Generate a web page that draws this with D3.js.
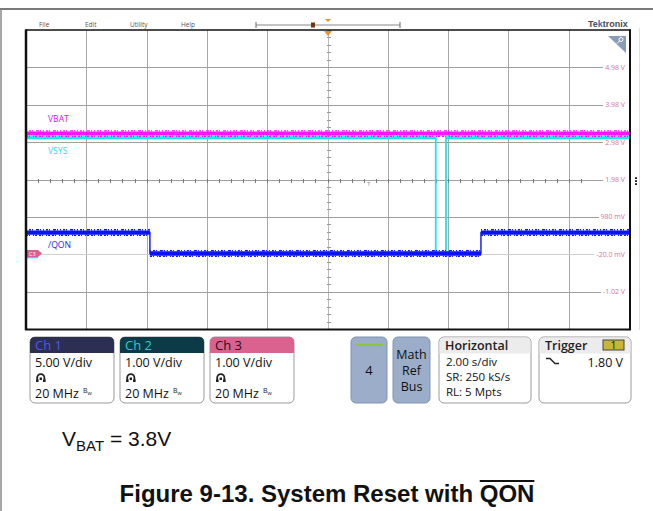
<!DOCTYPE html>
<html><head><meta charset="utf-8">
<script src="https://cdn.jsdelivr.net/npm/d3@7"></script>
<style>body{margin:0;background:#fff}svg{display:block}text{font-family:"Open Sans",sans-serif}</style>
</head><body><svg id="c" width="653" height="511"></svg>
<script>
// ---------------- data ----------------
const timeRange = [-10, 10];            // seconds, 2.00 s/div x 10 div
const vbatTime  = [-10, 10];
const vbatVolts = [3.8, 3.8];
const vsysTime  = [-10, 3.59, 3.59, 3.93, 3.93, 10];
const vsysVolts = [3.1, 3.1, 0, 0, 3.1, 3.1];
const qonTime   = [-10, -5.89, -5.89, 5.09, 5.09, 10];
const qonVolts  = [0.56, 0.56, 0, 0, 0.56, 0.56];
const axisValues = [4.98, 3.98, 2.98, 1.98, 0.98, -0.02, -1.02];
const axisLabels = ["4.98 V", "3.98 V", "2.98 V", "1.98 V", "980 mV", "-20.0 mV", "-1.02 V"];
const traceNames = ["VBAT", "VSYS", "/QON"];
const menuItems = ["File", "Edit", "Utility", "Help"];
const channelNames = ["Ch 1", "Ch 2", "Ch 3"];
const channelScales = ["5.00 V/div", "1.00 V/div", "1.00 V/div"];
const channelBandwidth = ["20 MHz", "20 MHz", "20 MHz"];
const horizontalInfo = ["2.00 s/div", "SR: 250 kS/s", "RL: 5 Mpts"];
const mathRefBus = ["Math", "Ref", "Bus"];
const triggerSource = "1";
const triggerLevel = "1.80 V";
const noteText = ["V", "BAT", " = 3.8V"];
const captionText = "Figure 9-13. System Reset with ";
const captionBar = "QON";

// ---------------- layout ----------------
const svg = d3.select("#c");
const L = 26, R = 629, T = 30, B = 329;
const x = d3.scaleLinear().domain(timeRange).range([L, R]);
const divY = d3.scaleLinear().domain([-4, 4]).range([B, T]);
// channel vertical settings: volts/div and offset (div)
const chY = (vdiv, off) => v => divY(v / vdiv + off);
const y1 = chY(5, 0.47), y2 = chY(1, -1.98), y3 = chY(1, -1.98);
const ARIAL = '"Liberation Sans", Arial, sans-serif';

// frame
svg.append("line").attr("x1", 0).attr("x2", 653).attr("y1", 9).attr("y2", 9).attr("stroke", "#7a7a7a").attr("stroke-width", 2);
svg.append("line").attr("x1", 1).attr("x2", 1).attr("y1", 9).attr("y2", 511).attr("stroke", "#8a8a8a").attr("stroke-width", 1.5);
svg.append("line").attr("x1", 639.5).attr("x2", 639.5).attr("y1", 28).attr("y2", 330).attr("stroke", "#e2e2e2");

// menu
const mx = [39, 85, 130, 181];
svg.selectAll(".menu").data(menuItems).join("text").attr("x", (d, i) => mx[i]).attr("y", 26.5)
  .attr("font-size", 6.5).attr("fill", "#555").text(d => d);
// timeline
svg.append("line").attr("x1", 256).attr("x2", 400).attr("y1", 25).attr("y2", 25).attr("stroke", "#888");
[256, 400].forEach(v => svg.append("line").attr("x1", v).attr("x2", v).attr("y1", 22).attr("y2", 28).attr("stroke", "#666"));
svg.append("rect").attr("x", 311).attr("y", 22.5).attr("width", 4).attr("height", 5).attr("fill", "#6e3612");
svg.append("path").attr("d", "M325,19L331,19L328,22Z").attr("fill", "#f0902a");
// logo
const logo = svg.append("text").attr("x", 588).attr("y", 27).attr("font-size", 9).attr("font-weight", 700)
  .attr("fill", "#4a4a4a").style("font-family", ARIAL);
logo.append("tspan").text("Te");
logo.append("tspan").attr("fill", "#2f6fb8").text("k");
logo.append("tspan").text("tronix");

// grid
const g = svg.append("g").attr("shape-rendering", "crispEdges");
const xt = d3.range(-8, 10, 2).filter(t => t !== 0);
g.selectAll(".vg").data(xt).join("line").attr("x1", d => Math.round(x(d)) + 0.5).attr("x2", d => Math.round(x(d)) + 0.5)
  .attr("y1", T).attr("y2", B).attr("stroke", "#a8a8a8");

// right axis labels (channel 3 scale)
const lab = svg.append("g");
const labTexts = lab.selectAll("text").data(axisValues).join("text")
  .attr("x", 625).attr("y", d => y3(d) + 2.4).attr("text-anchor", "end").attr("font-size", 7)
  .attr("fill", "#e0709c").text((d, i) => axisLabels[i]);
const hdivs = d3.range(-3, 4);
hdivs.forEach(d => {
  const yy = Math.round(divY(d)) + 0.5;
  let endX = R;
  labTexts.each(function (v) { if (Math.abs(y3(v) - divY(d)) < 1) endX = 625 - this.getComputedTextLength() - 2; });
  g.append("line").attr("x1", L).attr("x2", endX).attr("y1", yy).attr("y2", yy)
    .attr("stroke", d === -2 ? "#cfcfcf" : "#a0a0a0").attr("stroke-width", d === -2 ? 1.5 : 1);
});
// center ticks
const cx = Math.round(x(0)) + 0.5, cy = Math.round(divY(0)) + 0.5;
g.append("line").attr("x1", cx).attr("x2", cx).attr("y1", T).attr("y2", B).attr("stroke", "#b8b8b8");
d3.range(-4, 4.01, 0.2).forEach(d => g.append("line").attr("x1", cx - 2).attr("x2", cx + 2)
  .attr("y1", Math.round(divY(d)) + 0.5).attr("y2", Math.round(divY(d)) + 0.5).attr("stroke", "#9a9a9a"));
d3.range(-10, 10.01, 0.4).forEach(t => { if (x(t) < 590) g.append("line").attr("y1", cy - 2).attr("y2", cy + 2)
  .attr("x1", Math.round(x(t)) + 0.5).attr("x2", Math.round(x(t)) + 0.5).attr("stroke", "#777"); });
// trigger T marker
svg.append("text").attr("x", 367).attr("y", 186).attr("font-size", 6).attr("fill", "#888").text("T");

// traces
function drawTrace(times, volts, y, color, hw, vw, fuzz) {
  const pts = times.map((t, i) => [x(t), y(volts[i])]);
  const grp = svg.append("g");
  grp.append("path").attr("d", d3.line()(pts)).attr("fill", "none").attr("stroke", color).attr("stroke-width", vw);
  for (let i = 0; i < pts.length - 1; i++) {
    const [x0, yy0] = pts[i], [x1, yy1] = pts[i + 1];
    if (x0 === x1) continue;
    grp.append("line").attr("x1", x0).attr("x2", x1).attr("y1", yy0).attr("y2", yy1)
      .attr("stroke", color).attr("stroke-width", hw);
    if (fuzz) {
      grp.append("line").attr("x1", x0).attr("x2", x1).attr("y1", yy0 - hw / 2 - 0.7).attr("y2", yy1 - hw / 2 - 0.7)
        .attr("stroke", color).attr("stroke-width", 1.4).attr("stroke-dasharray", "1 2 2 1 1 3 3 1 1 2");
      grp.append("line").attr("x1", x0).attr("x2", x1).attr("y1", yy0 + hw / 2 + 0.7).attr("y2", yy1 + hw / 2 + 0.7)
        .attr("stroke", color).attr("stroke-width", 1.4).attr("stroke-dasharray", "2 1 1 3 1 1 2 2");
    }
  }
}
drawTrace(vsysTime, vsysVolts, y2, "#19e6e6", 3, 1.8, false);
drawTrace(vbatTime, vbatVolts, y1, "#ff14ff", 4, 2, true);
drawTrace(qonTime, qonVolts, y3, "#0a14f0", 4.3, 1.4, true);

// trace labels
const labCol = ["#e020e0", "#30dce6", "#1a2ae0"];
const labY = [122, 154, 248];
svg.selectAll(".tl").data(traceNames).join("text").attr("x", 48).attr("y", (d, i) => labY[i])
  .attr("font-size", 8.6).attr("fill", (d, i) => labCol[i]).text(d => d);

// C3 ground marker
const gy = y3(0);
svg.append("line").attr("x1", 27).attr("x2", 38).attr("y1", gy + 4).attr("y2", gy + 4).attr("stroke", "#19e6e6").attr("stroke-width", 1.5);
svg.append("path").attr("d", `M27,${gy - 3.5}H38L42,${gy}L38,${gy + 3.5}H27Z`).attr("fill", "#d9608c");
svg.append("text").attr("x", 29).attr("y", gy + 2.2).attr("font-size", 5.5).attr("fill", "#fff").text("C3");

// plot border
svg.append("line").attr("x1", 25.5).attr("x2", 631).attr("y1", 30).attr("y2", 30).attr("stroke", "#111").attr("stroke-width", 1.5);
svg.append("line").attr("x1", 26).attr("x2", 26).attr("y1", 29.5).attr("y2", 330).attr("stroke", "#111").attr("stroke-width", 2.5);
svg.append("line").attr("x1", 630).attr("x2", 630).attr("y1", 29.5).attr("y2", 330).attr("stroke", "#111").attr("stroke-width", 2);
svg.append("line").attr("x1", 25).attr("x2", 631).attr("y1", 329.5).attr("y2", 329.5).attr("stroke", "#111").attr("stroke-width", 2);
svg.append("path").attr("d", "M324,31L332,31L328,36Z").attr("fill", "#f0902a");
// zoom corner icon
svg.append("path").attr("d", "M608,36H626V53Z").attr("fill", "#8a9cb8");
svg.append("circle").attr("cx", 621).attr("cy", 39.5).attr("r", 2).attr("fill", "none").attr("stroke", "#fff");
svg.append("line").attr("x1", 619.5).attr("y1", 41).attr("x2", 617).attr("y2", 43.5).attr("stroke", "#fff");
// side menu dots
[178, 181, 184].forEach(v => svg.append("rect").attr("x", 635).attr("y", v - 0.8).attr("width", 2).attr("height", 1.8).attr("fill", "#222"));

// ---------------- bottom panel ----------------
function topRound(xx, yy, w, h, r) {
  return `M${xx},${yy + h}V${yy + r}Q${xx},${yy} ${xx + r},${yy}H${xx + w - r}Q${xx + w},${yy} ${xx + w},${yy + r}V${yy + h}Z`;
}
const chX = [30, 120, 210];
const hdrFill = ["#2c2e52", "#0d3a47", "#d9628e"];
const hdrText = ["#4d5ce0", "#35c6d8", "#2a0f1a"];
channelNames.forEach((n, i) => {
  const bx = chX[i];
  svg.append("rect").attr("x", bx).attr("y", 337).attr("width", 84).attr("height", 66).attr("rx", 5)
    .attr("fill", "#fff").attr("stroke", "#9a9a9a");
  svg.append("path").attr("d", topRound(bx, 337, 84, 16, 5)).attr("fill", hdrFill[i]);
  svg.append("text").attr("x", bx + 5).attr("y", 350).attr("font-size", 13).attr("fill", hdrText[i]).text(n);
  svg.append("text").attr("x", bx + 5).attr("y", 367).attr("font-size", 12.5).attr("fill", "#111").text(channelScales[i]);
  const ic = svg.append("g").attr("transform", `translate(${bx + 6},373)`);
  ic.append("path").attr("d", "M1.2,8V4.8A3.6,3.6 0 0 1 8.4,4.8V8").attr("fill", "none").attr("stroke", "#222").attr("stroke-width", 1.8);
  ic.append("rect").attr("x", 0).attr("y", 6.5).attr("width", 2.6).attr("height", 2.5).attr("fill", "#222");
  ic.append("rect").attr("x", 7).attr("y", 6.5).attr("width", 2.6).attr("height", 2.5).attr("fill", "#222");
  ic.append("rect").attr("x", 3.6).attr("y", 4.5).attr("width", 2.4).attr("height", 2.5).attr("fill", "#222");
  const bw = svg.append("text").attr("x", bx + 5).attr("y", 398).attr("font-size", 12.5).attr("fill", "#111").text(channelBandwidth[i]);
  const tw = bw.node().getComputedTextLength();
  svg.append("text").attr("x", bx + 5 + tw + 4).attr("y", 393).attr("font-size", 7).attr("fill", "#222").text("B");
  svg.append("text").attr("x", bx + 5 + tw + 8.5).attr("y", 395).attr("font-size", 5.5).attr("fill", "#222").text("w");
});
// "4" button
svg.append("rect").attr("x", 351).attr("y", 337).attr("width", 36).attr("height", 66).attr("rx", 5)
  .attr("fill", "#9cadc9").attr("stroke", "#8293b2");
svg.append("line").attr("x1", 356).attr("x2", 383).attr("y1", 345).attr("y2", 345).attr("stroke", "#8cc63e").attr("stroke-width", 2);
svg.append("text").attr("x", 369).attr("y", 375).attr("text-anchor", "middle").attr("font-size", 13).attr("fill", "#111").text("4");
// Math Ref Bus
svg.append("rect").attr("x", 393).attr("y", 337).attr("width", 37).attr("height", 66).attr("rx", 5)
  .attr("fill", "#9cadc9").attr("stroke", "#8293b2");
svg.selectAll(".mrb").data(mathRefBus).join("text").attr("x", 411.5).attr("y", (d, i) => 359 + i * 16)
  .attr("text-anchor", "middle").attr("font-size", 12.5).attr("fill", "#111").text(d => d);
// Horizontal
svg.append("rect").attr("x", 439).attr("y", 337).attr("width", 92).attr("height", 66).attr("rx", 5)
  .attr("fill", "#fff").attr("stroke", "#9a9a9a");
svg.append("path").attr("d", topRound(439.5, 337.5, 91, 16, 5)).attr("fill", "#ececec");
svg.append("text").attr("x", 445).attr("y", 350).attr("font-size", 12.5).attr("font-weight", 600).attr("fill", "#222").text("Horizontal");
svg.selectAll(".hi").data(horizontalInfo).join("text").attr("x", 446).attr("y", (d, i) => [366, 381, 396][i])
  .attr("font-size", 11.5).attr("fill", "#111").text(d => d);
// Trigger
svg.append("rect").attr("x", 539).attr("y", 337).attr("width", 92).attr("height", 66).attr("rx", 5)
  .attr("fill", "#fff").attr("stroke", "#9a9a9a");
svg.append("path").attr("d", topRound(539.5, 337.5, 91, 16, 5)).attr("fill", "#ececec");
svg.append("text").attr("x", 545).attr("y", 350).attr("font-size", 12.5).attr("font-weight", 600).attr("fill", "#222").text("Trigger");
svg.append("rect").attr("x", 603).attr("y", 340).attr("width", 21).attr("height", 10).attr("fill", "#c8b634").attr("stroke", "#444");
svg.append("text").attr("x", 613.5).attr("y", 349).attr("text-anchor", "middle").attr("font-size", 10.5).attr("fill", "#111").text(triggerSource);
svg.append("path").attr("d", "M546,358.5H550L555,363.5H559").attr("fill", "none").attr("stroke", "#222").attr("stroke-width", 1.4);
svg.append("text").attr("x", 623).attr("y", 367).attr("text-anchor", "end").attr("font-size", 12.5).attr("fill", "#111").text(triggerLevel);

// ---------------- notes ----------------
const note = svg.append("text").attr("x", 62).attr("y", 446).attr("font-size", 21)
  .style("font-family", ARIAL).attr("fill", "#111");
note.append("tspan").text(noteText[0]);
note.append("tspan").attr("font-size", 15).attr("dy", 5).text(noteText[1]);
note.append("tspan").attr("dy", -5).text(noteText[2]);

const cap = svg.append("text").attr("x", 327).attr("y", 502).attr("text-anchor", "middle").attr("font-size", 24)
  .attr("font-weight", 700).style("font-family", ARIAL).attr("fill", "#111");
cap.append("tspan").text(captionText);
cap.append("tspan").text(captionBar);
// overline over QON
const capNode = cap.node();
const n = captionText.length;
const s = capNode.getStartPositionOfChar(n), e = capNode.getEndPositionOfChar(n + captionBar.length - 1);
svg.append("line").attr("x1", s.x).attr("x2", e.x).attr("y1", 481).attr("y2", 481).attr("stroke", "#111").attr("stroke-width", 1.8);
</script></body></html>
